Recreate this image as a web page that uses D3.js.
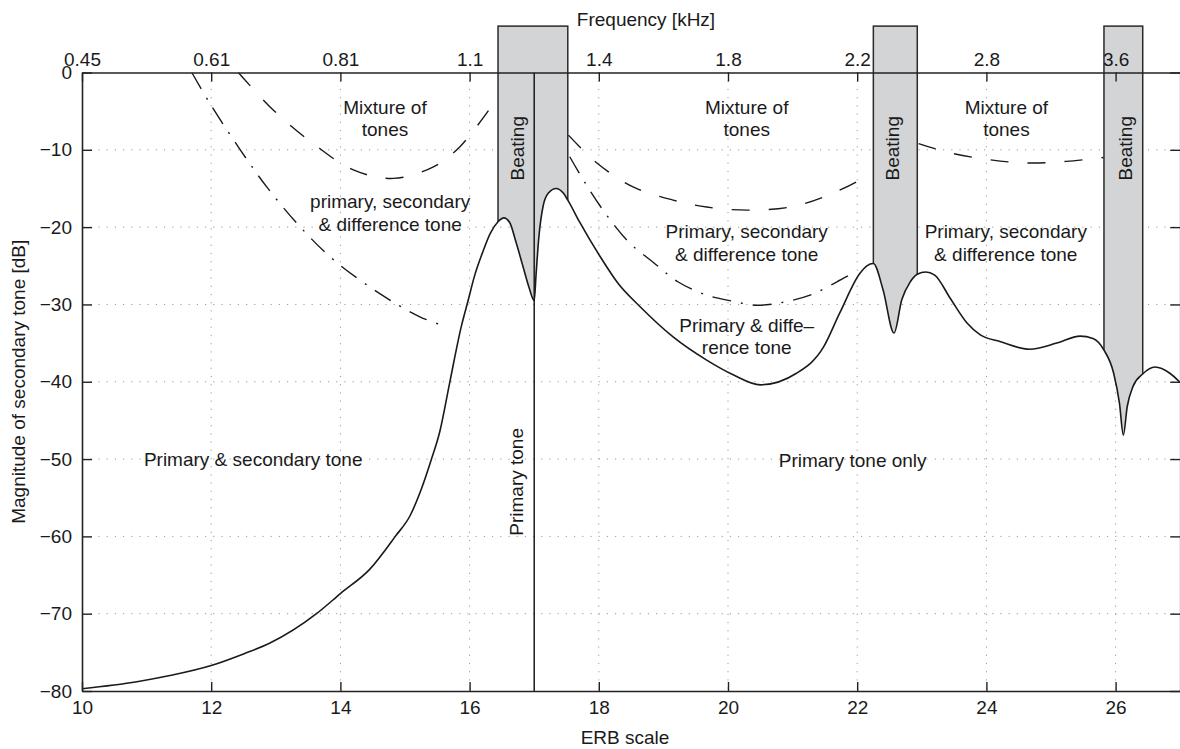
<!DOCTYPE html>
<html>
<head>
<meta charset="utf-8">
<script src="https://cdn.jsdelivr.net/npm/d3@7"></script>
<style>
  body { margin: 0; background: #fff; }
  svg { display: block; font-family: "Liberation Sans", Arial, Helvetica, sans-serif; }
</style>
</head>
<body>
<svg id="chart" width="1180" height="749"></svg>
<script>
// axis ticks
var erbTicks = [10, 12, 14, 16, 18, 20, 22, 24, 26];
var freqLabels = ["0.45", "0.61", "0.81", "1.1", "1.4", "1.8", "2.2", "2.8", "3.6"];
var dbTicks = [-80, -70, -60, -50, -40, -30, -20, -10, 0];

// solid boundary [ERB, dB]
var primaryBoundary = [
    [10, -79.7], [10.85, -78.8], [11.36, -78.0], [12.0, -76.7], [12.5, -75.2], [12.91, -73.8],
    [13.63, -70.0], [14.0, -67.4], [14.46, -64.2], [14.85, -60.0], [15.08, -57.3], [15.23, -54.4],
    [15.41, -50.0], [15.54, -46.4], [15.69, -40.2], [15.87, -32.9], [15.98, -29.4], [16.07, -26.5],
    [16.2, -23.3], [16.32, -20.8], [16.44, -19.3], [16.53, -18.8], [16.62, -19.4], [16.72, -22.0],
    [16.82, -24.9], [16.92, -27.8], [17.0, -29.5], [17.03, -26.0], [17.07, -21.5], [17.14, -17.2],
    [17.22, -15.6], [17.34, -15.0], [17.45, -15.6], [17.52, -16.5], [17.7, -19.3], [18.02, -23.8],
    [18.3, -27.3], [18.64, -30.3], [19.15, -34.2], [19.67, -37.2], [20.08, -39.1], [20.5, -40.4],
    [21.06, -38.9], [21.48, -35.5], [21.73, -31.1], [22.04, -26.0], [22.15, -25.0], [22.25, -24.7],
    [22.4, -28.1], [22.57, -33.7], [22.69, -29.4], [22.82, -27.1], [22.93, -26.1], [23.06, -25.8],
    [23.2, -26.2], [23.44, -29.2], [23.7, -32.4], [23.9, -33.9], [24.21, -34.8], [24.67, -35.8],
    [25.09, -35.0], [25.45, -34.1], [25.65, -34.4], [25.82, -35.9], [25.97, -38.9], [26.06, -42.8],
    [26.12, -46.9], [26.18, -43.2], [26.27, -40.6], [26.42, -39.0], [26.61, -38.1], [26.84, -38.9],
    [27.0, -40.1]
];

// dashed boundaries (mixture of tones)
var mixtureLeft = [[12.42, 0], [12.96, -4.85], [13.58, -9.2], [14.2, -12.6], [14.82, -13.7],
    [15.44, -12.2], [15.85, -9.6], [16.37, -4.0]];
var mixtureMid = [[17.53, -8.1], [17.97, -11.7], [18.53, -14.8], [19.15, -16.5], [19.67, -17.4],
    [20.29, -17.8], [20.96, -17.4], [21.48, -16.1], [22.04, -13.9], [22.2, -12.9]];
var mixtureRight = [[22.95, -9.2], [23.44, -10.4], [24.06, -11.3], [24.62, -11.7], [25.24, -11.5],
    [25.81, -11.0]];

// dash-dot boundaries (difference tone)
var differenceLeft = [[11.7, 0], [11.98, -4.0], [12.45, -10.0], [12.86, -14.8], [13.37, -19.9],
    [13.89, -24.2], [14.61, -28.6], [15.23, -31.6], [15.65, -32.9]];
var differenceMid = [[17.55, -10.9], [17.79, -14.3], [18.1, -18.2], [18.46, -21.9], [18.85, -24.6],
    [19.23, -27.1], [19.67, -28.8], [20.08, -29.6], [20.44, -30.1], [20.8, -29.8], [21.27, -28.8],
    [21.68, -27.1], [21.95, -25.9]];

// beating bands [from ERB, to ERB]; bands reach above the axis to this level (dB)
var beatingBands = [[16.44, 17.52], [22.25, 22.93], [25.82, 26.42]];
var beatingTop = 6;
var beatingLabelErb = [16.74, 22.55, 26.15];
var beatingLabelDb = -9.8;

var primaryToneErb = 17;

// region labels [lines, ERB, dB of first line]
var regionLabels = [
    [["Mixture of", "tones"], 14.69, -4.46],
    [["Mixture of", "tones"], 20.29, -4.46],
    [["Mixture of", "tones"], 24.31, -4.46],
    [["primary, secondary", "& difference tone"], 14.77, -16.7],
    [["Primary, secondary", "& difference tone"], 20.29, -20.6],
    [["Primary, secondary", "& difference tone"], 24.3, -20.6],
    [["Primary & diffe\u2013", "rence tone"], 20.29, -32.65],
    [["Primary & secondary tone"], 12.65, -50.1],
    [["Primary tone only"], 21.93, -50.2]
];

var svg = d3.select("#chart");
var fontSize = 19;
var ink = "#1a1a1a";

var x = d3.scaleLinear().domain([10, 27]).range([82, 1180.2]);
var y = d3.scaleLinear().domain([-80, 0]).range([691, 72.5]);

var line = d3.line()
    .x(function (d) { return x(d[0]); })
    .y(function (d) { return y(d[1]); })
    .curve(d3.curveCatmullRom.alpha(0.5));

var solidLine = d3.line()
    .x(function (d) { return x(d[0]); })
    .y(function (d) { return y(d[1]); })
    .curve(d3.curveMonotoneX);

var defs = svg.append("defs");
defs.append("clipPath").attr("id", "plot")
    .append("rect")
    .attr("x", x(10)).attr("y", y(0))
    .attr("width", x(27) - x(10)).attr("height", y(-80) - y(0));

// region above the solid curve, used to cut the beating bands
defs.append("clipPath").attr("id", "above")
    .append("path")
    .attr("d", d3.area()
        .x(function (d) { return x(d[0]); })
        .y0(0)
        .y1(function (d) { return y(d[1]); })
        .curve(d3.curveMonotoneX)(primaryBoundary));

// grid
var grid = svg.append("g").attr("stroke", "#9a9a9a").attr("stroke-width", 1)
    .attr("stroke-dasharray", "1.2,7");
grid.selectAll(".vgrid")
    .data(erbTicks.filter(function (d) { return d > 10; }))
    .enter().append("line")
    .attr("x1", function (d) { return x(d); }).attr("x2", function (d) { return x(d); })
    .attr("y1", y(0)).attr("y2", y(-80));
grid.selectAll(".hgrid")
    .data(dbTicks.filter(function (d) { return d > -80 && d < 0; }))
    .enter().append("line")
    .attr("y1", function (d) { return y(d); }).attr("y2", function (d) { return y(d); })
    .attr("x1", x(10)).attr("x2", x(27));

// beating bands
svg.append("g").attr("clip-path", "url(#above)")
    .selectAll("rect")
    .data(beatingBands)
    .enter().append("rect")
    .attr("x", function (d) { return x(d[0]); })
    .attr("width", function (d) { return x(d[1]) - x(d[0]); })
    .attr("y", y(beatingTop))
    .attr("height", y(-80) - y(beatingTop))
    .attr("fill", "#d3d4d6")
    .attr("stroke", "#2a2a2a")
    .attr("stroke-width", 1.5);

// boundaries
var lines = svg.append("g").attr("clip-path", "url(#plot)").attr("fill", "none").attr("stroke", ink);

[mixtureLeft, mixtureMid, mixtureRight].forEach(function (s) {
    lines.append("path").attr("d", line(s))
        .attr("stroke-width", 1.4).attr("stroke-dasharray", "18,19");
});
[differenceLeft, differenceMid].forEach(function (s) {
    lines.append("path").attr("d", line(s))
        .attr("stroke-width", 1.4).attr("stroke-dasharray", "19,10,2,10");
});
lines.append("path").attr("d", solidLine(primaryBoundary)).attr("stroke-width", 1.6);

lines.append("line")
    .attr("x1", x(primaryToneErb)).attr("x2", x(primaryToneErb))
    .attr("y1", y(0)).attr("y2", y(-80))
    .attr("stroke-width", 1.5);

// axes
function styleAxis(g) {
    g.attr("font-family", null).attr("font-size", fontSize);
    g.select(".domain").attr("stroke", "#222").attr("stroke-width", 1.6);
    g.selectAll(".tick line").attr("stroke", "#222").attr("stroke-width", 1.4);
    g.selectAll(".tick text").attr("fill", ink);
}

svg.append("g")
    .attr("transform", "translate(0," + y(-80) + ")")
    .call(d3.axisBottom(x).tickValues(erbTicks).tickSizeInner(-9).tickSizeOuter(0).tickPadding(10))
    .call(styleAxis);

svg.append("g")
    .attr("transform", "translate(0," + y(0) + ")")
    .call(d3.axisTop(x).tickValues(erbTicks).tickSizeInner(-9).tickSizeOuter(0).tickPadding(7)
        .tickFormat(function (d, i) { return freqLabels[i]; }))
    .call(styleAxis);

svg.append("g")
    .attr("transform", "translate(" + x(10) + ",0)")
    .call(d3.axisLeft(y).tickValues(dbTicks).tickSizeInner(-10).tickSizeOuter(0).tickPadding(10)
        .tickFormat(function (d) { return d < 0 ? "\u2212" + (-d) : d; }))
    .call(styleAxis);

svg.append("g")
    .attr("transform", "translate(" + x(27) + ",0)")
    .call(d3.axisRight(y).tickValues(dbTicks).tickSizeInner(-10).tickSizeOuter(0).tickFormat(""))
    .call(styleAxis);

// axis titles
svg.append("text")
    .attr("x", 625).attr("y", 737).attr("dy", "0.35em")
    .attr("text-anchor", "middle").attr("font-size", fontSize).attr("fill", ink)
    .text("ERB scale");

svg.append("text")
    .attr("x", 646).attr("y", 19).attr("dy", "0.35em")
    .attr("text-anchor", "middle").attr("font-size", fontSize).attr("fill", ink)
    .text("Frequency [kHz]");

svg.append("text")
    .attr("transform", "translate(18," + ((y(0) + y(-80)) / 2) + ") rotate(-90)")
    .attr("dy", "0.35em")
    .attr("text-anchor", "middle").attr("font-size", fontSize).attr("fill", ink)
    .text("Magnitude of secondary tone [dB]");

// annotations
var notes = svg.append("g").attr("font-size", fontSize).attr("fill", ink).attr("text-anchor", "middle");

beatingLabelErb.forEach(function (e) {
    notes.append("text")
        .attr("transform", "translate(" + x(e) + "," + y(beatingLabelDb) + ") rotate(-90)")
        .attr("dy", "0.35em")
        .text("Beating");
});

notes.append("text")
    .attr("transform", "translate(" + x(16.73) + "," + y(-52.95) + ") rotate(-90)")
    .attr("dy", "0.35em")
    .text("Primary tone");

regionLabels.forEach(function (r) {
    var t = notes.append("text")
        .attr("x", x(r[1]))
        .attr("y", y(r[2]));
    r[0].forEach(function (s, i) {
        t.append("tspan")
            .attr("x", x(r[1]))
            .attr("dy", i === 0 ? "0.35em" : 22.5)
            .text(s);
    });
});
</script>
</body>
</html>
